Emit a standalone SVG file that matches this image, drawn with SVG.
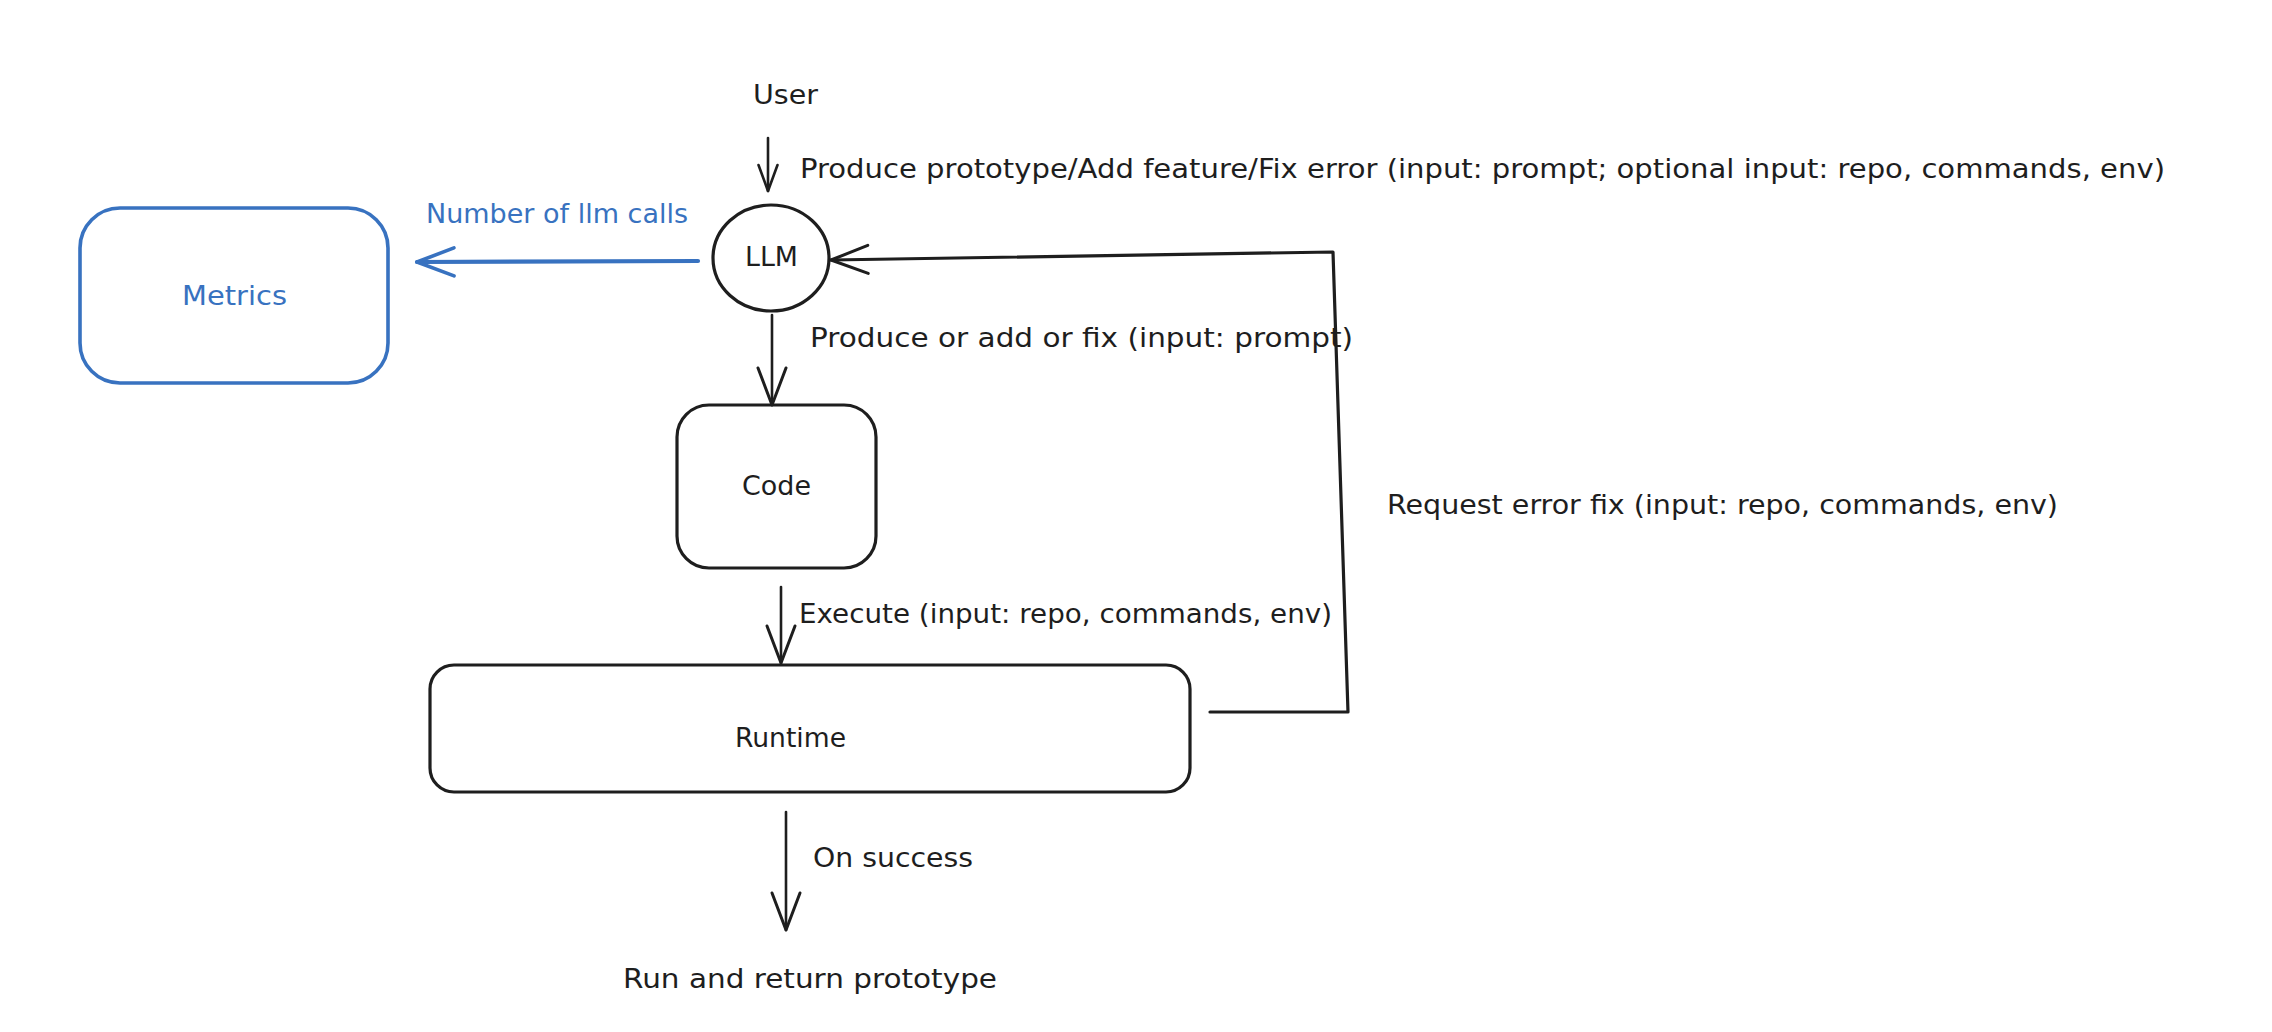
<svg xmlns="http://www.w3.org/2000/svg" width="2272" height="1032" viewBox="0 0 2272 1032">
<style>
  .ln { fill: none; stroke: #1e1e1e; stroke-width: 2.6; stroke-linecap: round; stroke-linejoin: round; }
  .shape { fill: none; stroke: #1e1e1e; stroke-width: 3.2; }
  .blue-shape { fill: none; stroke: #3872c0; stroke-width: 3.6; }
  .blue-ln { fill: none; stroke: #3872c0; stroke-width: 4.2; stroke-linecap: round; }
  text { font-family: "DejaVu Sans", "Liberation Sans", sans-serif; font-size: 26px; fill: #1e1e1e; }
  .blue { fill: #3872c0; }
</style>
<defs>
  <marker id="ah" markerUnits="userSpaceOnUse" markerWidth="50" markerHeight="40" viewBox="-42 -20 50 40" refX="0" refY="0" orient="auto">
    <path d="M-37,-14 L0,0 L-37,14" fill="none" stroke="#1e1e1e" stroke-width="3" stroke-linecap="round" stroke-linejoin="round"/>
  </marker>
  <marker id="ah-small" markerUnits="userSpaceOnUse" markerWidth="40" markerHeight="30" viewBox="-32 -15 40 30" refX="0" refY="0" orient="auto">
    <path d="M-26,-9.5 L0,0 L-26,9.5" fill="none" stroke="#1e1e1e" stroke-width="2.6" stroke-linecap="round" stroke-linejoin="round"/>
  </marker>
  <marker id="ah-blue" markerUnits="userSpaceOnUse" markerWidth="50" markerHeight="40" viewBox="-42 -20 50 40" refX="0" refY="0" orient="auto">
    <path d="M-37,-14 L0,0 L-37,14" fill="none" stroke="#3872c0" stroke-width="3.6" stroke-linecap="round" stroke-linejoin="round"/>
  </marker>
</defs>
<rect x="0" y="0" width="2272" height="1032" fill="#ffffff"/>

<g id="node-user">
  <text x="753" y="104" textLength="65" lengthAdjust="spacingAndGlyphs">User</text>
</g>

<g id="node-metrics">
  <rect class="blue-shape" x="80" y="208" width="308" height="175" rx="40" ry="40"/>
  <text class="blue" x="182" y="305" textLength="105" lengthAdjust="spacingAndGlyphs">Metrics</text>
</g>

<g id="node-llm">
  <ellipse class="shape" cx="771" cy="258" rx="58" ry="53"/>
  <text x="745" y="266" textLength="53" lengthAdjust="spacingAndGlyphs">LLM</text>
</g>

<g id="node-code">
  <rect class="shape" x="677" y="405" width="199" height="163" rx="32" ry="32"/>
  <text x="742" y="495" textLength="69" lengthAdjust="spacingAndGlyphs">Code</text>
</g>

<g id="node-runtime">
  <rect class="shape" x="430" y="665" width="760" height="127" rx="24" ry="24"/>
  <text x="735" y="747" textLength="111" lengthAdjust="spacingAndGlyphs">Runtime</text>
</g>

<g id="node-result">
  <text x="623" y="988" textLength="374" lengthAdjust="spacingAndGlyphs">Run and return prototype</text>
</g>

<g id="connectors">
  <path class="ln" d="M768,138 L768,191" marker-end="url(#ah-small)"/>
  <path class="ln" d="M772,315 L772,405" marker-end="url(#ah)"/>
  <path class="ln" d="M781,587 L781,663" marker-end="url(#ah)"/>
  <path class="ln" d="M786,812 L786,930" marker-end="url(#ah)"/>
  <path class="blue-ln" d="M698,261 L417,262" marker-end="url(#ah-blue)"/>
  <path class="ln" style="stroke-width:3.2" d="M1210,712 L1348,712 L1333,252 L831,260" marker-end="url(#ah)"/>
</g>

<g id="connector-labels">
  <text x="800" y="178" textLength="1365" lengthAdjust="spacingAndGlyphs">Produce prototype/Add feature/Fix error (input: prompt; optional input: repo, commands, env)</text>
  <text class="blue" x="426" y="223" textLength="262" lengthAdjust="spacingAndGlyphs">Number of llm calls</text>
  <text x="810" y="347" textLength="543" lengthAdjust="spacingAndGlyphs">Produce or add or fix (input: prompt)</text>
  <text x="799" y="623" textLength="533" lengthAdjust="spacingAndGlyphs">Execute (input: repo, commands, env)</text>
  <text x="1387" y="514" textLength="671" lengthAdjust="spacingAndGlyphs">Request error fix (input: repo, commands, env)</text>
  <text x="813" y="867" textLength="160" lengthAdjust="spacingAndGlyphs">On success</text>
</g>
</svg>
